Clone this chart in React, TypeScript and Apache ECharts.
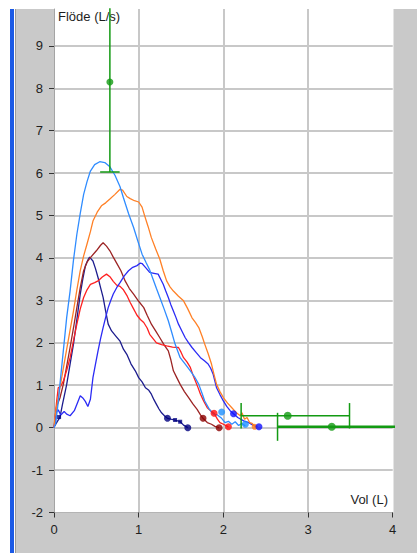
import React, { useEffect, useRef } from "react";
import * as echarts from "echarts";

// Flow-volume curves: [volume (L), flow (L/s)]
const lightBlueCurve: number[][] = [
  [0, 0], [0.02, 0.1], [0.05, 0.6], [0.07, 1.02], [0.11, 1.81], [0.15, 2.6], [0.19, 3.22], [0.23, 3.95],
  [0.27, 4.56], [0.31, 5.05], [0.35, 5.5], [0.39, 5.8], [0.43, 6.05], [0.48, 6.2], [0.54, 6.27], [0.6, 6.25],
  [0.66, 6.15], [0.72, 5.95], [0.78, 5.68], [0.82, 5.42], [0.88, 5.05], [0.94, 4.72], [0.99, 4.4], [1.04, 4.09],
  [1.09, 3.88], [1.13, 3.72], [1.17, 3.5], [1.21, 3.28], [1.25, 3.07], [1.3, 2.8], [1.35, 2.52], [1.39, 2.25],
  [1.43, 1.97], [1.49, 1.65], [1.55, 1.5], [1.61, 1.34], [1.66, 1.2], [1.71, 1.02], [1.75, 0.8], [1.78, 0.63],
  [1.83, 0.45], [1.88, 0.32], [1.93, 0.3], [1.98, 0.22], [2.02, 0.12], [2.06, 0.15], [2.1, 0.08], [2.14, 0.14],
  [2.18, 0.05], [2.22, 0.1], [2.26, 0.04],
];
const orangeCurve: number[][] = [
  [0, 0], [0.01, 0.24], [0.04, 0.6], [0.07, 0.94], [0.11, 1.4], [0.15, 1.85], [0.19, 2.3], [0.23, 2.75],
  [0.27, 3.25], [0.31, 3.7], [0.35, 4.05], [0.39, 4.33], [0.43, 4.62], [0.46, 4.87], [0.51, 5.08], [0.56, 5.23],
  [0.61, 5.3], [0.66, 5.39], [0.72, 5.5], [0.78, 5.62], [0.81, 5.6], [0.86, 5.45], [0.9, 5.4], [0.95, 5.35],
  [1.0, 5.32], [1.04, 5.2], [1.07, 5.0], [1.11, 4.75], [1.15, 4.48], [1.2, 4.22], [1.25, 3.97], [1.29, 3.7],
  [1.33, 3.46], [1.37, 3.32], [1.41, 3.22], [1.47, 3.1], [1.53, 2.99], [1.58, 2.8], [1.63, 2.59], [1.67, 2.48],
  [1.71, 2.36], [1.75, 2.15], [1.78, 1.97], [1.82, 1.75], [1.86, 1.5], [1.89, 1.25], [1.92, 1.02], [1.96, 0.85],
  [2.0, 0.71], [2.05, 0.58], [2.1, 0.47], [2.15, 0.36], [2.2, 0.28], [2.22, 0.35], [2.25, 0.2], [2.28, 0.24],
  [2.31, 0.12], [2.34, 0.1], [2.37, 0.04], [2.38, 0.0],
];
const maroonCurve: number[][] = [
  [0, 0], [0.01, 0.1], [0.03, 0.5], [0.07, 0.7], [0.11, 1.02], [0.15, 1.45], [0.19, 1.89], [0.23, 2.35],
  [0.27, 2.83], [0.31, 3.3], [0.35, 3.7], [0.39, 3.9], [0.43, 4.01], [0.5, 4.17], [0.55, 4.3], [0.58, 4.36],
  [0.62, 4.28], [0.66, 4.17], [0.7, 4.02], [0.74, 3.88], [0.79, 3.7], [0.84, 3.46], [0.89, 3.28], [0.94, 3.15],
  [1.0, 2.98], [1.06, 2.83], [1.1, 2.65], [1.15, 2.44], [1.2, 2.28], [1.25, 2.12], [1.3, 1.95], [1.35, 1.81],
  [1.38, 1.6], [1.41, 1.34], [1.45, 1.18], [1.49, 1.02], [1.54, 0.85], [1.59, 0.71], [1.64, 0.56], [1.69, 0.43],
  [1.73, 0.3], [1.76, 0.22], [1.81, 0.12], [1.86, 0.08], [1.9, 0.03], [1.95, 0.0],
];
const redCurve: number[][] = [
  [0, 0], [0.01, 0.15], [0.03, 0.6], [0.05, 0.94], [0.08, 0.98], [0.11, 1.1], [0.15, 1.35], [0.19, 1.65],
  [0.23, 2.05], [0.27, 2.44], [0.31, 2.8], [0.35, 3.07], [0.39, 3.25], [0.43, 3.38], [0.48, 3.42], [0.52, 3.46],
  [0.57, 3.55], [0.62, 3.62], [0.66, 3.56], [0.7, 3.45], [0.74, 3.36], [0.78, 3.33], [0.82, 3.25], [0.86, 3.12],
  [0.9, 2.95], [0.94, 2.8], [0.98, 2.65], [1.02, 2.55], [1.06, 2.48], [1.1, 2.35], [1.13, 2.2], [1.17, 2.1],
  [1.21, 2.0], [1.27, 1.96], [1.33, 1.93], [1.4, 1.9], [1.47, 1.89], [1.5, 1.78], [1.53, 1.65], [1.57, 1.55],
  [1.61, 1.42], [1.64, 1.25], [1.67, 1.1], [1.7, 0.95], [1.73, 0.79], [1.77, 0.62], [1.81, 0.47], [1.85, 0.4],
  [1.89, 0.34], [1.93, 0.2], [1.96, 0.12], [2.0, 0.08], [2.06, 0.02],
];
const navyCurve: number[][] = [
  [0, 0], [0.01, 0.05], [0.04, 0.15], [0.07, 0.24], [0.1, 0.55], [0.15, 1.02], [0.19, 1.5], [0.23, 1.97],
  [0.27, 2.55], [0.31, 3.15], [0.34, 3.5], [0.37, 3.81], [0.4, 3.95], [0.42, 4.02], [0.46, 3.93], [0.49, 3.75],
  [0.52, 3.54], [0.55, 3.3], [0.58, 3.07], [0.61, 2.75], [0.64, 2.44], [0.68, 2.28], [0.73, 2.16], [0.78, 2.04],
  [0.82, 1.85], [0.86, 1.73], [0.91, 1.5], [0.96, 1.34], [1.0, 1.18], [1.04, 1.08], [1.08, 0.94], [1.12, 0.88],
  [1.15, 0.79], [1.18, 0.66], [1.21, 0.55], [1.24, 0.44], [1.27, 0.35], [1.31, 0.27], [1.34, 0.22], [1.38, 0.2],
  [1.43, 0.18], [1.49, 0.14], [1.53, 0.06], [1.58, 0.0],
];
const blueCurve: number[][] = [
  [0, 0], [0.02, 0.35], [0.05, 0.42], [0.08, 0.3], [0.12, 0.38], [0.15, 0.32], [0.19, 0.28], [0.24, 0.4],
  [0.28, 0.6], [0.31, 0.75], [0.34, 0.7], [0.37, 0.62], [0.4, 0.5], [0.43, 0.67], [0.46, 1.18], [0.49, 1.5],
  [0.52, 1.81], [0.55, 2.1], [0.58, 2.36], [0.61, 2.6], [0.64, 2.83], [0.67, 3.0], [0.7, 3.15], [0.74, 3.3],
  [0.78, 3.42], [0.83, 3.58], [0.88, 3.7], [0.93, 3.78], [0.98, 3.82], [1.02, 3.88], [1.04, 3.87], [1.08, 3.78],
  [1.13, 3.66], [1.18, 3.64], [1.23, 3.62], [1.26, 3.5], [1.29, 3.38], [1.32, 3.22], [1.35, 3.07], [1.38, 2.9],
  [1.41, 2.75], [1.44, 2.6], [1.47, 2.44], [1.51, 2.28], [1.55, 2.12], [1.59, 2.0], [1.63, 1.89], [1.68, 1.77],
  [1.73, 1.65], [1.78, 1.57], [1.82, 1.5], [1.85, 1.4], [1.88, 1.26], [1.9, 1.1], [1.92, 0.94], [1.96, 0.78],
  [2.0, 0.63], [2.04, 0.5], [2.08, 0.4], [2.12, 0.33], [2.17, 0.24], [2.24, 0.16], [2.3, 0.12], [2.35, 0.06],
  [2.4, 0.02],
];

// Marker points on each curve
const lightBlueMarks: number[][] = [[1.98, 0.37], [2.26, 0.08]];
const orangeMarks: number[][] = [[2.37, 0.02]];
const maroonMarks: number[][] = [[1.76, 0.22], [1.95, 0.0]];
const redMarks: number[][] = [[1.89, 0.34], [2.06, 0.02]];
const navyMarks: number[][] = [[1.34, 0.22], [1.58, 0.0]];
const navySmallMarks: number[][] = [[0.06, 0.25], [1.43, 0.18], [1.49, 0.14]];
const blueMarks: number[][] = [[2.12, 0.33], [2.42, 0.02]];

// Reference (green) error bars
const pefVol = 0.66;
const pefFlow = [6.03, 8.15, 10.27]; // low, mean, high
const fvcFlow = [0.28, 0.02];
const fvcVol = [
  [2.21, 2.76, 3.49],
  [2.64, 3.28, 4.3],
];

const xTickValues = [0, 1, 2, 3, 4];
const yTickValues = [-2, -1, 0, 1, 2, 3, 4, 5, 6, 7, 8, 9];

const GREEN = "#139a13";
const PANEL = "#c9c9c9";
const FONT = '"Liberation Sans", Arial, sans-serif';

function curve(data: number[][], color: string) {
  return {
    type: "line",
    data,
    symbol: "none",
    lineStyle: { color, width: 1.3 },
    z: 2,
  };
}
function marks(data: number[][], color: string, size = 7, symbol = "circle") {
  return {
    type: "scatter",
    data,
    symbol,
    symbolSize: size,
    itemStyle: { color },
    z: 4,
  };
}
function seg(data: number[][], width = 1.5) {
  return {
    type: "line",
    data,
    symbol: "none",
    lineStyle: { color: GREEN, width },
    z: 3,
  };
}

export default function App() {
  const ref = useRef<HTMLDivElement>(null);
  useEffect(() => {
    const chart = echarts.init(ref.current!, null, { renderer: "svg" });
    const pefCap = 0.115;
    const fvcCaps = [0.3, 0.33];
    const series: any[] = [
      curve(navyCurve, "#1c1c8e"),
      curve(maroonCurve, "#9c2424"),
      curve(redCurve, "#ff2020"),
      curve(blueCurve, "#2b2bf5"),
      curve(orangeCurve, "#ff8026"),
      curve(lightBlueCurve, "#2f8cff"),
      marks(navyMarks, "#000080"),
      marks(navySmallMarks, "#000080", 4, "rect"),
      marks(maroonMarks, "#8b0000"),
      marks(redMarks, "#ff1010"),
      marks(lightBlueMarks, "#1e90ff"),
      marks(orangeMarks, "#ff7a1a", 6),
      marks(blueMarks, "#1010ff"),
      // PEF vertical error bar
      seg([[pefVol, pefFlow[0]], [pefVol, pefFlow[2]]]),
      seg([[pefVol - pefCap, pefFlow[0]], [pefVol + pefCap, pefFlow[0]]]),
      seg([[pefVol - pefCap, pefFlow[2]], [pefVol + pefCap, pefFlow[2]]]),
      marks([[pefVol, pefFlow[1]]], GREEN, 7),
    ];
    fvcFlow.forEach((f, i) => {
      const [lo, mid, hi] = fvcVol[i];
      const c = fvcCaps[i];
      series.push(seg([[lo, f], [hi, f]], i === 1 ? 2.6 : 1.5));
      series.push(seg([[lo, f - c], [lo, f + c]]));
      series.push(seg([[hi, f - c], [hi, f + c]]));
      series.push(marks([[mid, f]], GREEN, 8));
    });

    chart.setOption({
      animation: false,
      backgroundColor: "#ffffff",
      grid: { left: 54, top: 9, width: 338.7, height: 503.5, containLabel: false },
      xAxis: {
        type: "value",
        min: xTickValues[0],
        max: xTickValues[xTickValues.length - 1],
        interval: 1,
        axisLine: { show: true, onZero: false, lineStyle: { color: "#b4b4b4", width: 1 } },
        axisTick: { show: true, length: 5, lineStyle: { color: "#333333", width: 1 } },
        axisLabel: { margin: 10, color: "#1e1e1e", fontSize: 13, fontFamily: FONT },
        splitLine: {
          show: true,
          showMinLine: false,
          showMaxLine: false,
          lineStyle: { color: "#c8c8c8", width: 2 },
        },
      },
      yAxis: {
        type: "value",
        min: yTickValues[0],
        max: 9.87,
        interval: 1,
        axisLine: { show: true, onZero: false, lineStyle: { color: "#a4a4a4", width: 1 } },
        axisTick: { show: true, length: 5, lineStyle: { color: "#333333", width: 1 } },
        axisLabel: {
          margin: 11,
          showMaxLabel: false,
          color: "#1e1e1e",
          fontSize: 13,
          fontFamily: FONT,
        },
        splitLine: {
          show: true,
          showMinLine: false,
          showMaxLine: false,
          lineStyle: { color: "#c8c8c8", width: 2 },
        },
      },
      graphic: [
        { type: "rect", z: -1, shape: { x: 15, y: 9, width: 39, height: 544 }, style: { fill: PANEL } },
        { type: "rect", z: -1, shape: { x: 15, y: 512.5, width: 402, height: 41 }, style: { fill: PANEL } },
        { type: "rect", z: -1, shape: { x: 393.5, y: 9, width: 24, height: 544 }, style: { fill: PANEL } },
        { type: "rect", z: -1, shape: { x: 10, y: 9, width: 4, height: 544 }, style: { fill: "#1b5ae6" } },
        { type: "rect", z: -1, shape: { x: 15, y: 9, width: 1, height: 544 }, style: { fill: "#9a9a9a" } },
        {
          type: "text",
          z: 1,
          x: 58,
          y: 16,
          style: { text: "Flöde (L/s)", font: `13px ${FONT}`, fill: "#1e1e1e", align: "left", verticalAlign: "middle" },
        },
        {
          type: "text",
          z: 1,
          x: 388,
          y: 499,
          style: { text: "Vol (L)", font: `13px ${FONT}`, fill: "#1e1e1e", align: "right", verticalAlign: "middle" },
        },
      ],
      series,
    });
    return () => chart.dispose();
  }, []);
  return <div ref={ref} style={{ position: "absolute", left: 0, top: 0, width: 417, height: 553 }} />;
}
